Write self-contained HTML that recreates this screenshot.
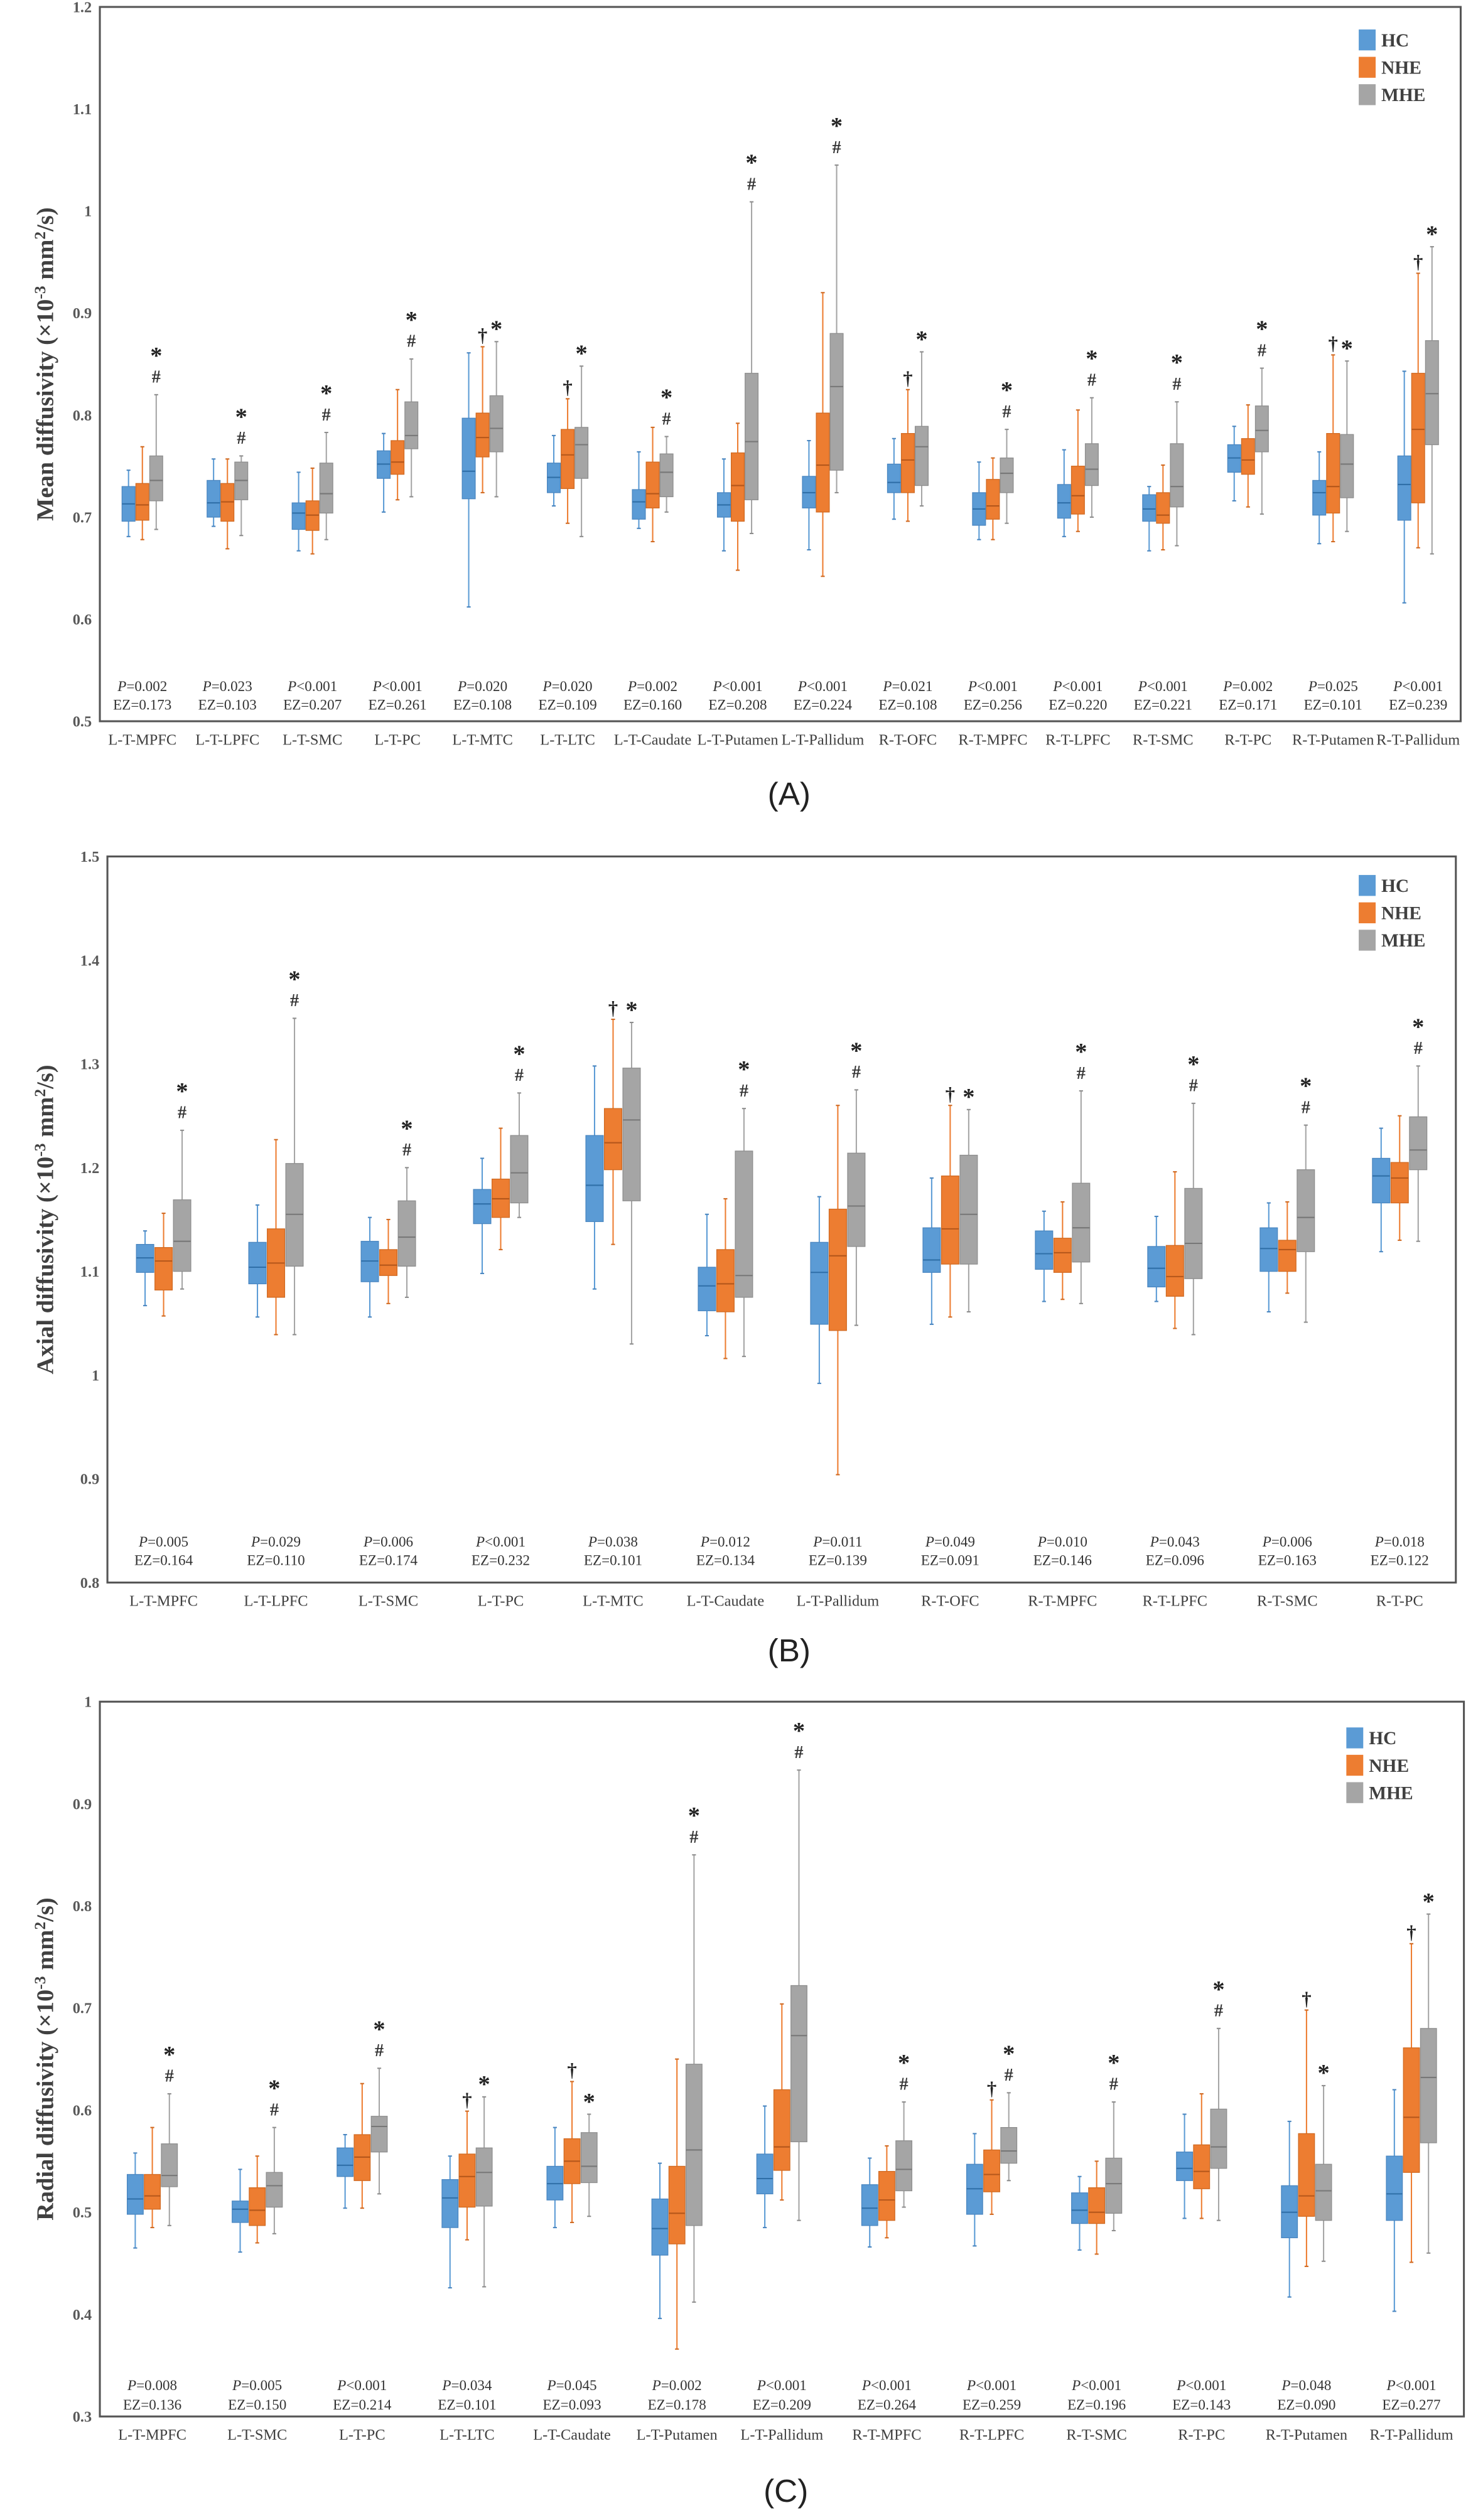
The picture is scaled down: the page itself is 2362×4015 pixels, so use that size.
<!DOCTYPE html>
<html><head><meta charset="utf-8"><style>
html,body{margin:0;padding:0;background:#fff;}
svg{display:block;}
</style></head><body>
<svg id="fig" xmlns="http://www.w3.org/2000/svg" width="2362" height="4015" viewBox="0 0 920.86 1565.3">
<rect x="0" y="0" width="920.86" height="1565.3" fill="#fff"/>
</svg>
<script>
// ===== Panel A: Mean diffusivity =====
const mdCategories = ["L-T-MPFC","L-T-LPFC","L-T-SMC","L-T-PC","L-T-MTC","L-T-LTC","L-T-Caudate","L-T-Putamen","L-T-Pallidum","R-T-OFC","R-T-MPFC","R-T-LPFC","R-T-SMC","R-T-PC","R-T-Putamen","R-T-Pallidum"];
const mdHC = [[0.681,0.696,0.713,0.730,0.746],[0.691,0.700,0.714,0.736,0.757],[0.667,0.688,0.704,0.714,0.744],[0.705,0.738,0.752,0.765,0.782],[0.612,0.718,0.745,0.797,0.861],[0.711,0.724,0.739,0.753,0.780],[0.689,0.698,0.715,0.727,0.764],[0.667,0.700,0.712,0.724,0.757],[0.668,0.709,0.724,0.740,0.775],[0.698,0.724,0.734,0.752,0.777],[0.678,0.692,0.708,0.724,0.754],[0.681,0.699,0.714,0.732,0.766],[0.667,0.696,0.708,0.722,0.730],[0.716,0.744,0.758,0.771,0.789],[0.674,0.702,0.724,0.736,0.764],[0.616,0.697,0.732,0.760,0.843]];
const mdNHE = [[0.678,0.697,0.712,0.733,0.769],[0.669,0.696,0.715,0.733,0.757],[0.664,0.687,0.702,0.716,0.748],[0.717,0.742,0.754,0.775,0.825],[0.724,0.759,0.778,0.802,0.867],[0.694,0.728,0.761,0.786,0.816],[0.676,0.709,0.723,0.754,0.788],[0.648,0.696,0.731,0.763,0.792],[0.642,0.705,0.751,0.802,0.920],[0.696,0.724,0.756,0.782,0.825],[0.678,0.698,0.711,0.737,0.758],[0.686,0.703,0.721,0.750,0.805],[0.668,0.694,0.702,0.724,0.751],[0.710,0.742,0.756,0.777,0.810],[0.676,0.704,0.730,0.782,0.859],[0.670,0.714,0.786,0.841,0.939]];
const mdMHE = [[0.688,0.716,0.736,0.760,0.820],[0.682,0.717,0.736,0.754,0.760],[0.678,0.704,0.723,0.753,0.783],[0.720,0.767,0.780,0.813,0.855],[0.720,0.764,0.787,0.819,0.872],[0.681,0.738,0.771,0.788,0.848],[0.705,0.720,0.744,0.762,0.779],[0.684,0.717,0.774,0.841,1.009],[0.724,0.746,0.828,0.880,1.045],[0.711,0.731,0.769,0.789,0.862],[0.694,0.724,0.743,0.758,0.786],[0.700,0.731,0.747,0.772,0.817],[0.672,0.710,0.730,0.772,0.813],[0.703,0.764,0.785,0.809,0.846],[0.686,0.719,0.752,0.781,0.853],[0.664,0.771,0.821,0.873,0.965]];
const mdP = ["=0.002","=0.023","<0.001","<0.001","=0.020","=0.020","=0.002","<0.001","<0.001","=0.021","<0.001","<0.001","<0.001","=0.002","=0.025","<0.001"];
const mdEZ = ["0.173","0.103","0.207","0.261","0.108","0.109","0.160","0.208","0.224","0.108","0.256","0.220","0.221","0.171","0.101","0.239"];
const mdNheMarks = ["","","","","†","†","","","","†","","","","","†","†"];
const mdMheMarks = ["#*","#*","#*","#*","*","*","#*","#*","#*","*","#*","#*","#*","#*","*","*"];
const mdTicks = [0.5,0.6,0.7,0.8,0.9,1,1.1,1.2];

// ===== Panel B: Axial diffusivity =====
const adCategories = ["L-T-MPFC","L-T-LPFC","L-T-SMC","L-T-PC","L-T-MTC","L-T-Caudate","L-T-Pallidum","R-T-OFC","R-T-MPFC","R-T-LPFC","R-T-SMC","R-T-PC"];
const adHC = [[1.067,1.099,1.113,1.126,1.139],[1.056,1.088,1.104,1.128,1.164],[1.056,1.090,1.110,1.129,1.152],[1.098,1.146,1.165,1.179,1.209],[1.083,1.148,1.183,1.231,1.298],[1.038,1.062,1.086,1.104,1.155],[0.992,1.049,1.099,1.128,1.172],[1.049,1.099,1.111,1.142,1.190],[1.071,1.102,1.117,1.139,1.158],[1.071,1.085,1.103,1.124,1.153],[1.061,1.100,1.122,1.142,1.166],[1.119,1.166,1.192,1.209,1.238]];
const adNHE = [[1.057,1.082,1.110,1.123,1.156],[1.039,1.075,1.108,1.141,1.227],[1.069,1.096,1.106,1.121,1.150],[1.121,1.152,1.170,1.189,1.238],[1.126,1.198,1.224,1.257,1.343],[1.016,1.061,1.088,1.121,1.170],[0.904,1.043,1.115,1.160,1.260],[1.056,1.107,1.141,1.192,1.260],[1.073,1.099,1.118,1.132,1.167],[1.045,1.076,1.095,1.125,1.196],[1.079,1.100,1.121,1.130,1.167],[1.130,1.166,1.190,1.205,1.250]];
const adMHE = [[1.083,1.100,1.129,1.169,1.236],[1.039,1.105,1.155,1.204,1.344],[1.075,1.105,1.133,1.168,1.200],[1.152,1.166,1.195,1.231,1.272],[1.030,1.168,1.246,1.296,1.340],[1.018,1.075,1.096,1.216,1.257],[1.048,1.124,1.163,1.214,1.275],[1.061,1.107,1.155,1.212,1.256],[1.069,1.109,1.142,1.185,1.274],[1.039,1.093,1.127,1.180,1.262],[1.051,1.119,1.152,1.198,1.241],[1.129,1.198,1.217,1.249,1.298]];
const adP = ["=0.005","=0.029","=0.006","<0.001","=0.038","=0.012","=0.011","=0.049","=0.010","=0.043","=0.006","=0.018"];
const adEZ = ["0.164","0.110","0.174","0.232","0.101","0.134","0.139","0.091","0.146","0.096","0.163","0.122"];
const adNheMarks = ["","","","","†","","","†","","","",""];
const adMheMarks = ["#*","#*","#*","#*","*","#*","#*","*","#*","#*","#*","#*"];
const adTicks = [0.8,0.9,1,1.1,1.2,1.3,1.4,1.5];

// ===== Panel C: Radial diffusivity =====
const rdCategories = ["L-T-MPFC","L-T-SMC","L-T-PC","L-T-LTC","L-T-Caudate","L-T-Putamen","L-T-Pallidum","R-T-MPFC","R-T-LPFC","R-T-SMC","R-T-PC","R-T-Putamen","R-T-Pallidum"];
const rdHC = [[0.465,0.498,0.513,0.537,0.558],[0.461,0.490,0.503,0.511,0.542],[0.504,0.535,0.546,0.563,0.576],[0.426,0.485,0.514,0.532,0.555],[0.485,0.512,0.528,0.545,0.583],[0.396,0.458,0.484,0.513,0.548],[0.485,0.518,0.533,0.557,0.604],[0.466,0.487,0.504,0.527,0.553],[0.467,0.498,0.523,0.547,0.577],[0.463,0.489,0.502,0.519,0.535],[0.494,0.531,0.543,0.559,0.596],[0.417,0.475,0.500,0.526,0.589],[0.403,0.492,0.518,0.555,0.620]];
const rdNHE = [[0.485,0.503,0.516,0.537,0.583],[0.470,0.487,0.502,0.524,0.555],[0.504,0.531,0.554,0.576,0.626],[0.473,0.505,0.535,0.557,0.599],[0.490,0.528,0.550,0.572,0.628],[0.366,0.469,0.499,0.545,0.650],[0.512,0.541,0.564,0.620,0.704],[0.475,0.492,0.512,0.540,0.565],[0.498,0.520,0.537,0.561,0.610],[0.459,0.489,0.500,0.524,0.550],[0.494,0.523,0.540,0.566,0.616],[0.447,0.496,0.516,0.577,0.698],[0.451,0.539,0.593,0.661,0.763]];
const rdMHE = [[0.487,0.525,0.536,0.567,0.616],[0.479,0.505,0.526,0.539,0.583],[0.518,0.559,0.584,0.594,0.641],[0.427,0.506,0.539,0.563,0.613],[0.496,0.529,0.545,0.578,0.596],[0.412,0.487,0.561,0.645,0.850],[0.492,0.569,0.673,0.722,0.933],[0.505,0.521,0.542,0.570,0.608],[0.531,0.548,0.560,0.583,0.617],[0.482,0.499,0.528,0.553,0.608],[0.492,0.543,0.564,0.601,0.680],[0.452,0.492,0.521,0.547,0.624],[0.460,0.568,0.632,0.680,0.792]];
const rdP = ["=0.008","=0.005","<0.001","=0.034","=0.045","=0.002","<0.001","<0.001","<0.001","<0.001","<0.001","=0.048","<0.001"];
const rdEZ = ["0.136","0.150","0.214","0.101","0.093","0.178","0.209","0.264","0.259","0.196","0.143","0.090","0.277"];
const rdNheMarks = ["","","","†","†","","","","†","","","†","†"];
const rdMheMarks = ["#*","#*","#*","*","*","#*","#*","#*","#*","#*","#*","*","*"];
const rdTicks = [0.3,0.4,0.5,0.6,0.7,0.8,0.9,1];

const NS = "http://www.w3.org/2000/svg";
const svg = document.getElementById('fig');
const fills = ["#5B9BD5","#ED7D31","#A5A5A5"];
const strokes = ["#4A86C0","#D06A22","#8E8E8E"];
const medians = ["#2F6FA8","#B4561A","#777777"];
const groupNames = ["hc","nhe","mhe"];

function mk(tag, attrs, parent){
  const e = document.createElementNS(NS, tag);
  for (const k in attrs) e.setAttribute(k, attrs[k]);
  (parent||svg).appendChild(e);
  return e;
}

function drawPanel(c){
  const g = mk('g', {});
  
  
  const n = c.cats.length;
  const band = (c.right - c.left) / n;
  const yS = v => c.bottom - (v - c.ymin) / (c.ymax - c.ymin) * (c.bottom - c.top);
  const xC = i => c.left + (i + 0.5) * band;

  // frame
  const fr = mk('rect', {x:c.left, y:c.top, width:c.right-c.left, height:c.bottom-c.top, fill:'none', stroke:'#555', 'stroke-width':1.2}, g);
  
  

  // ticks
  c.ticks.forEach(t => {
    const tx = mk('text', {x:c.left-5, y:yS(t)+3.3, 'text-anchor':'end', 'font-family':'"Liberation Serif", serif', 'font-size':9.5, 'font-weight':'bold', fill:'#595959'}, g);
    tx.textContent = String(t);
    
    
  });

  // y title
  const yc = (c.top + c.bottom) / 2;
  const yt = mk('text', {x:0, y:0, transform:'translate('+c.titleX+','+yc+') rotate(-90)', 'text-anchor':'middle', 'font-family':'"Liberation Serif", serif', 'font-size':15, 'font-weight':'bold', fill:'#404040'}, g);
  
  
  const t1 = mk('tspan', {}, yt); t1.textContent = c.title + ' (×10';
  const t2 = mk('tspan', {dy:-5, 'font-size':10}, yt); t2.textContent = '-3';
  const t3 = mk('tspan', {dy:5}, yt); t3.textContent = ' mm';
  const t4 = mk('tspan', {dy:-5, 'font-size':10}, yt); t4.textContent = '2';
  const t5 = mk('tspan', {dy:5}, yt); t5.textContent = '/s)';

  // boxes
  const series = [c.hc, c.nhe, c.mhe];
  for (let i = 0; i < n; i++){
    const cx0 = xC(i);
    const cg = mk('g', {}, g);
    
    
    for (let s = 0; s < 3; s++){
      const d = series[s][i];
      const cx = cx0 + (s - 1) * c.bw;
      const w = c.bw * 0.94;
      const bg = mk('g', {}, cg);
      
      
      const wl = mk('line', {x1:cx, x2:cx, y1:yS(d[0]), y2:yS(d[4]), stroke:fills[s], 'stroke-width':0.8}, bg);
      
      
      [d[0], d[4]].forEach(v => {
        const cap = mk('line', {x1:cx-1.2, x2:cx+1.2, y1:yS(v), y2:yS(v), stroke:strokes[s], 'stroke-width':0.8}, bg);
        
        
      });
      const r = mk('rect', {x:cx-w/2, y:yS(d[3]), width:w, height:yS(d[1])-yS(d[3]), fill:fills[s], stroke:strokes[s], 'stroke-width':0.5}, bg);
      
      
      const m = mk('line', {x1:cx-w/2, x2:cx+w/2, y1:yS(d[2]), y2:yS(d[2]), stroke:medians[s], 'stroke-width':0.8}, bg);
      
      
    }
    // markers
    const nm = c.nheMarks[i];
    if (nm){
      const tx = mk('text', {x:cx0, y:yS(c.nhe[i][4]) - 3, 'text-anchor':'middle', 'font-family':'"Liberation Serif", serif', 'font-size':12, 'font-weight':'bold', fill:'#222'}, cg);
      tx.textContent = nm;
      
      
    }
    const mm = c.mheMarks[i];
    const mx = cx0 + c.bw;
    const mtop = yS(c.mhe[i][4]);
    if (mm === '#*'){
      const h = mk('text', {x:mx, y:mtop - 7.5, 'text-anchor':'middle', 'font-family':'"Liberation Serif", serif', 'font-size':11, 'font-weight':'bold', fill:'#333'}, cg);
      h.textContent = '#';
      
      
      const a = mk('text', {x:mx, y:mtop - 19.5, 'text-anchor':'middle', 'font-family':'"Liberation Serif", serif', 'font-size':15, 'font-weight':'bold', fill:'#222'}, cg);
      a.textContent = '*';
      
      
    } else if (mm === '*'){
      const a = mk('text', {x:mx, y:mtop - 3, 'text-anchor':'middle', 'font-family':'"Liberation Serif", serif', 'font-size':15, 'font-weight':'bold', fill:'#222'}, cg);
      a.textContent = '*';
      
      
    }
    // stats text
    const pt = mk('text', {x:cx0, y:c.bottom - c.pOff + 3.2, 'text-anchor':'middle', 'font-family':'"Liberation Serif", serif', 'font-size':9, fill:'#333'}, cg);
    
    
    const pi = mk('tspan', {'font-style':'italic'}, pt); pi.textContent = 'P';
    const pv = mk('tspan', {}, pt); pv.textContent = c.p[i];
    const ez = mk('text', {x:cx0, y:c.bottom - c.ezOff + 3.2, 'text-anchor':'middle', 'font-family':'"Liberation Serif", serif', 'font-size':9, fill:'#333'}, cg);
    ez.textContent = 'EZ=' + c.ez[i];
    
    
    const cl = mk('text', {x:cx0, y:c.bottom + 14.5, 'text-anchor':'middle', 'font-family':'"Liberation Serif", serif', 'font-size':9.5, fill:'#404040'}, cg);
    cl.textContent = c.cats[i];
    
    
  }

  // legend
  const lg = mk('g', {}, g);
  
  
  ['HC','NHE','MHE'].forEach((nm, s) => {
    const yy = c.legY + s * 17;
    const sq = mk('rect', {x:c.legX, y:yy, width:10.5, height:13, fill:fills[s]}, lg);
    
    
    const lt = mk('text', {x:c.legX + 14, y:yy + 10.5, 'font-family':'"Liberation Serif", serif', 'font-size':11.5, 'font-weight':'bold', fill:'#404040'}, lg);
    lt.textContent = nm;
    
    
  });

  // caption
  const cap = mk('text', {x:c.capX, y:c.capY, 'text-anchor':'middle', 'font-family':'"Liberation Sans", sans-serif', 'font-size':20, fill:'#222'}, g);
  cap.textContent = c.caption;
  
  
}

drawPanel({id:'mean-diffusivity', cats:mdCategories, hc:mdHC, nhe:mdNHE, mhe:mdMHE, p:mdP, ez:mdEZ, nheMarks:mdNheMarks, mheMarks:mdMheMarks, ticks:mdTicks,
  ymin:0.5, ymax:1.2, left:62, right:907, top:4.3, bottom:448, bw:8.6, title:'Mean diffusivity', titleX:33,
  pOff:22, ezOff:10.4, legX:843.7, legY:18.3, caption:'(A)', capX:490, capY:500});
drawPanel({id:'axial-diffusivity', cats:adCategories, hc:adHC, nhe:adNHE, mhe:adMHE, p:adP, ez:adEZ, nheMarks:adNheMarks, mheMarks:adMheMarks, ticks:adTicks,
  ymin:0.8, ymax:1.5, left:66.7, right:904, top:532, bottom:983, bw:11.5, title:'Axial diffusivity', titleX:33,
  pOff:25.5, ezOff:14, legX:843.7, legY:543.5, caption:'(B)', capX:490, capY:1032});
drawPanel({id:'radial-diffusivity', cats:rdCategories, hc:rdHC, nhe:rdNHE, mhe:rdMHE, p:rdP, ez:rdEZ, nheMarks:rdNheMarks, mheMarks:rdMheMarks, ticks:rdTicks,
  ymin:0.3, ymax:1.0, left:62, right:909, top:1057, bottom:1501, bw:10.6, title:'Radial diffusivity', titleX:33,
  pOff:19.5, ezOff:7.5, legX:836, legY:1073, caption:'(C)', capX:488, capY:1554});
</script>
</body></html>
